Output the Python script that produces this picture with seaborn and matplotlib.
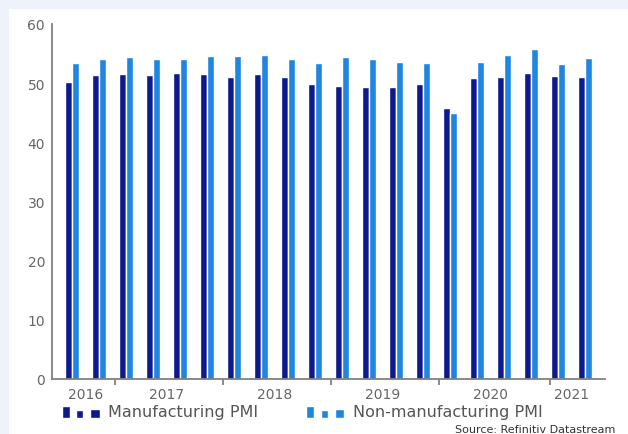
import pandas as pd
import seaborn as sns
import matplotlib.pyplot as plt
from matplotlib.patches import Rectangle
from matplotlib.legend_handler import HandlerBase

# quarterly PMI readings, Q3 2016 .. Q2 2021
quarters = ["2016Q3", "2016Q4",
            "2017Q1", "2017Q2", "2017Q3", "2017Q4",
            "2018Q1", "2018Q2", "2018Q3", "2018Q4",
            "2019Q1", "2019Q2", "2019Q3", "2019Q4",
            "2020Q1", "2020Q2", "2020Q3", "2020Q4",
            "2021Q1", "2021Q2"]
manufacturing = [50.2, 51.4, 51.5, 51.3, 51.8, 51.5, 51.0, 51.5, 51.1, 49.8,
                 49.5, 49.4, 49.4, 49.9, 45.8, 50.8, 51.1, 51.7, 51.2, 51.0]
non_manufacturing = [53.4, 54.1, 54.5, 54.1, 54.1, 54.6, 54.6, 54.7, 54.1, 53.4,
                     54.4, 54.1, 53.6, 53.4, 45.0, 53.6, 54.8, 55.8, 53.2, 54.3]
series_names = ["Manufacturing PMI", "Non-manufacturing PMI"]
years = ["2016", "2017", "2018", "2019", "2020", "2021"]
year_centers = [0.5, 3.5, 7.5, 11.5, 15.5, 18.5]
year_breaks = [1.6, 5.6, 9.6, 13.6, 17.7]

colors = ["#0c1a8e", "#1f86e0"]

df = pd.DataFrame({
    "quarter": quarters * 2,
    "value": manufacturing + non_manufacturing,
    "series": [series_names[0]] * len(quarters) + [series_names[1]] * len(quarters),
})


class BlockHandler(HandlerBase):
    # one tall block followed by two small squares, like the original legend key
    def create_artists(self, legend, orig_handle, xdescent, ydescent,
                       width, height, fontsize, trans):
        c = orig_handle.get_facecolor()
        x0, y0 = -xdescent, -ydescent - 0.1 * height
        tall = Rectangle((x0, y0), width * 0.21, height * 1.05,
                         facecolor=c, transform=trans)
        sq1 = Rectangle((x0 + width * 0.37, y0), width * 0.19, height * 0.65,
                        facecolor=c, transform=trans)
        sq2 = Rectangle((x0 + width * 0.74, y0), width * 0.24, height * 0.8,
                        facecolor=c, transform=trans)
        return [tall, sq1, sq2]


sns.set_theme(style="white")
plt.rcParams["font.family"] = ["DejaVu Sans"]

fig = plt.figure(figsize=(6.28, 4.35), dpi=100, facecolor="#eef3fb")
fig.add_artist(Rectangle((9 / 628, 0), 1, 1 - 10 / 435, transform=fig.transFigure,
                         facecolor="white", edgecolor="none", zorder=-1))
ax = fig.add_axes([52 / 628, 55 / 435, 553 / 628, 355 / 435])
ax.set_facecolor("none")

sns.barplot(data=df, x="quarter", y="value", hue="series", palette=colors,
            width=0.56, gap=0.1, ax=ax, legend=False, saturation=1)

ax.set_xlim(-0.74, 19.74)
ax.set_ylim(0, 60)
ax.set_yticks(range(0, 61, 10))
ax.tick_params(axis="y", length=0, labelsize=10, labelcolor="#666666", pad=5)

ax.set_xticks(year_breaks)
ax.set_xticklabels([])
ax.set_xticks(year_centers, minor=True)
ax.set_xticklabels(years, minor=True)
ax.tick_params(axis="x", which="major", direction="out", length=4, width=1.2,
               color="#777777", bottom=True)
ax.tick_params(axis="x", which="minor", length=0, labelsize=10,
               labelcolor="#666666", pad=6)
ax.set_xlabel("")
ax.set_ylabel("")

for side in ["top", "right"]:
    ax.spines[side].set_visible(False)
for side in ["left", "bottom"]:
    ax.spines[side].set_color("#808080")
    ax.spines[side].set_linewidth(1.3)

handles = [Rectangle((0, 0), 1, 1, facecolor=c) for c in colors]
fig.legend(handles, series_names, handler_map={Rectangle: BlockHandler()},
           loc="center left", bbox_to_anchor=(62 / 628, 1 - 413 / 435),
           ncol=2, frameon=False, fontsize=11.5, labelcolor="#555555",
           handlelength=2.4, handleheight=0.7, handletextpad=0.5, columnspacing=3.0,
           borderaxespad=0, borderpad=0)

fig.text(615 / 628, 1 - 430 / 435, "Source: Refinitiv Datastream", ha="right", va="center",
         fontsize=8, color="#333333")

plt.savefig("out.png", dpi=100, facecolor=fig.get_facecolor())
plt.close()
